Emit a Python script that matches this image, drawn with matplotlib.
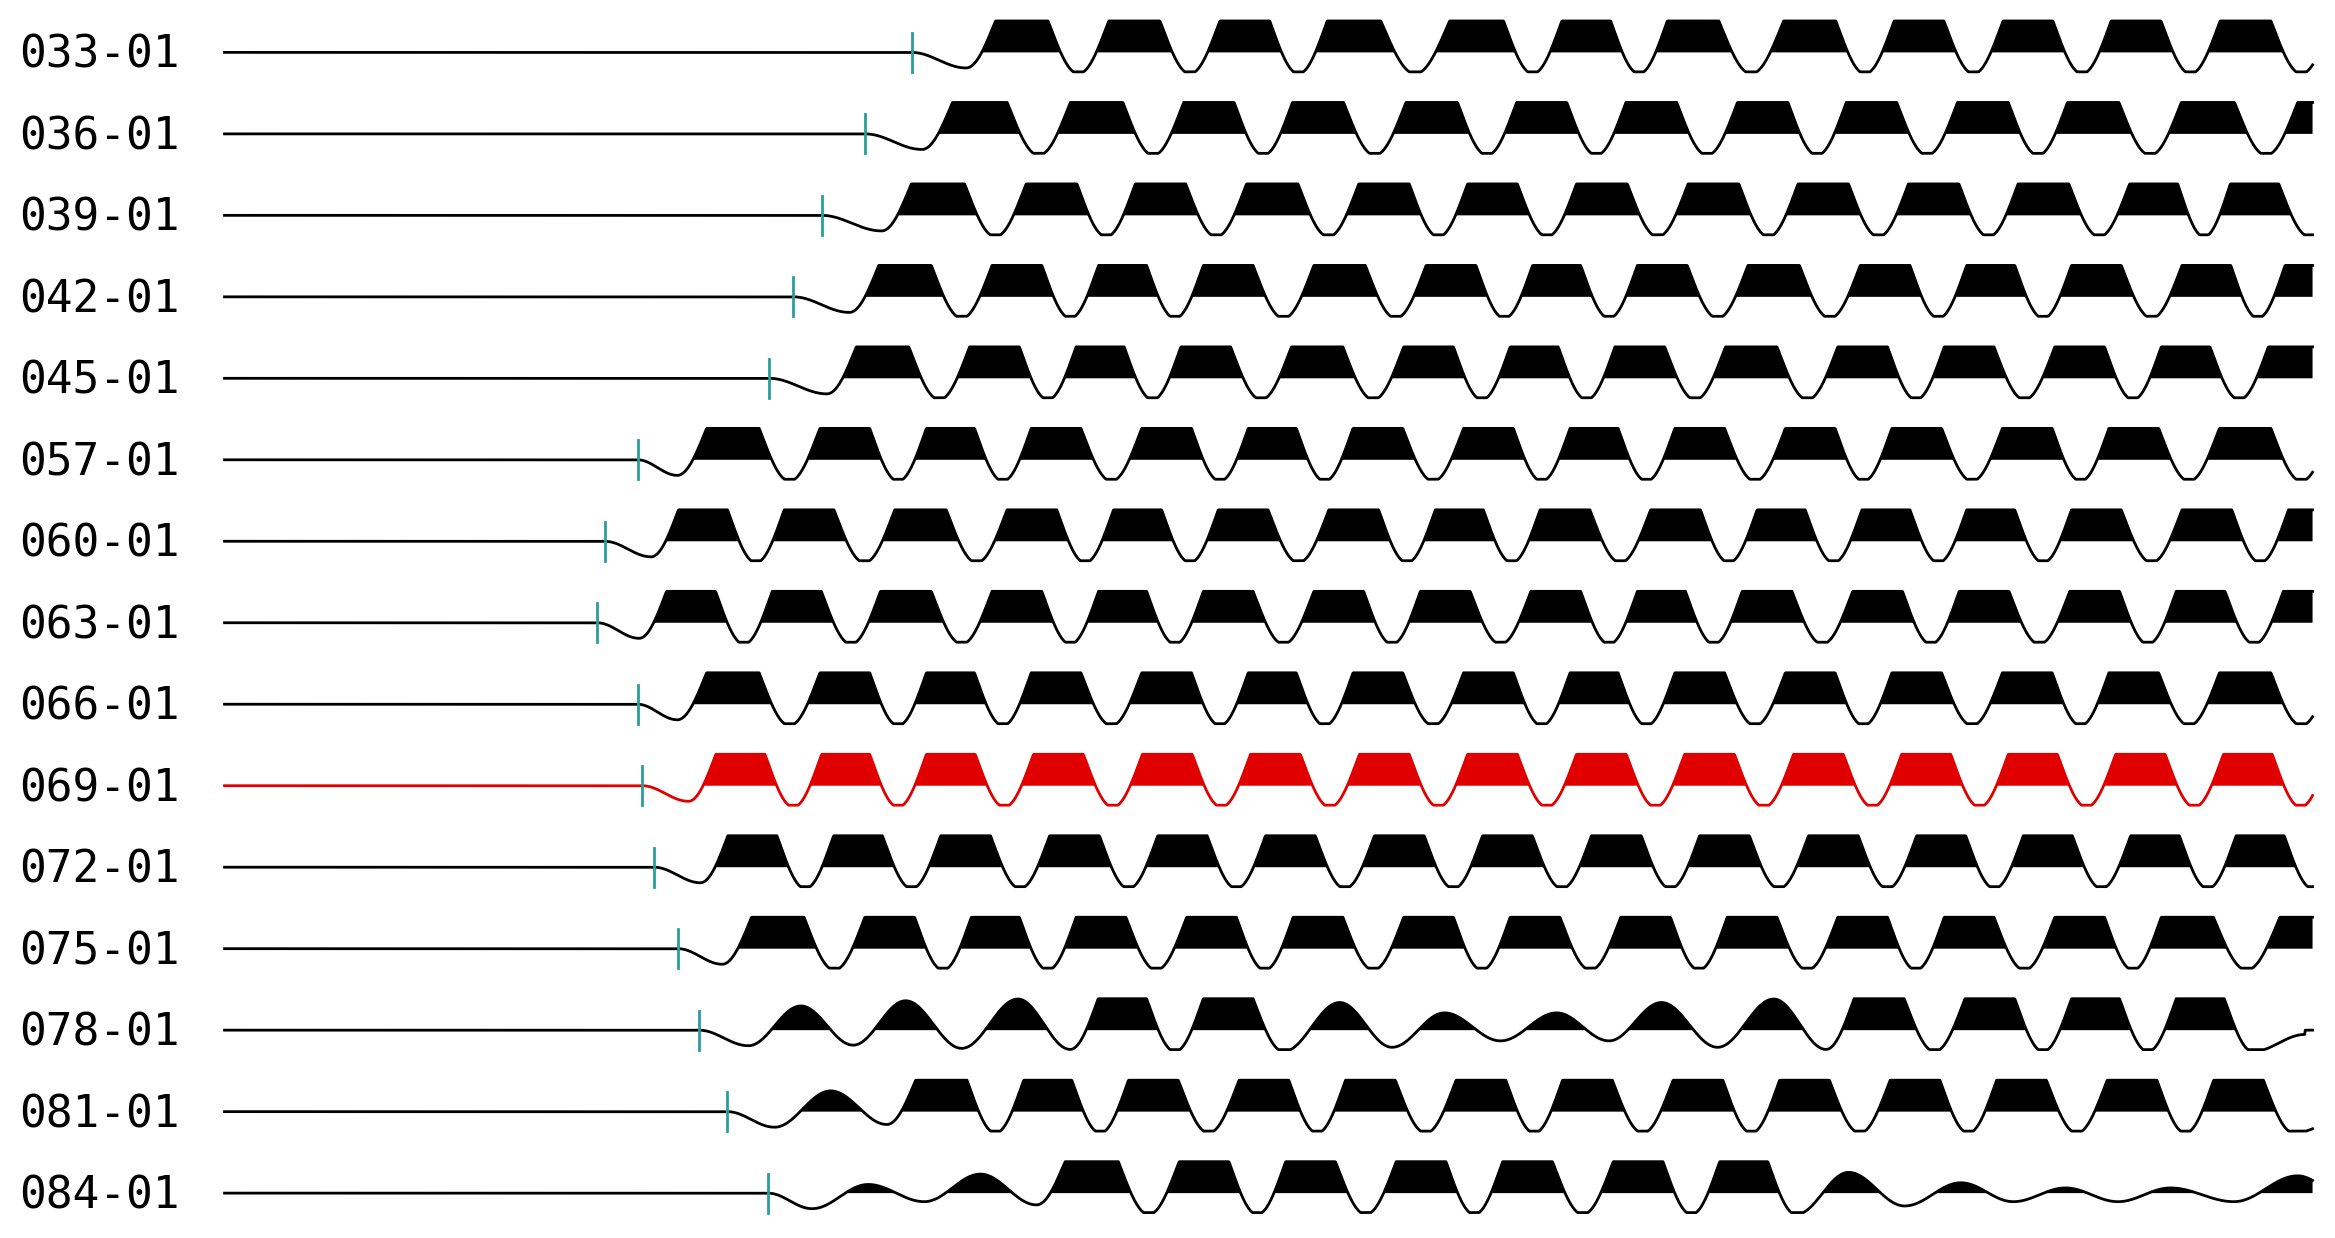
import numpy as np
import matplotlib
matplotlib.use("Agg")
import matplotlib.pyplot as plt

labels = ["033-01","036-01","039-01","042-01","045-01","057-01","060-01","063-01",
          "066-01","069-01","072-01","075-01","078-01","081-01","084-01"]
picks = [609,578,549,530,514,426,404,399,426,429,437,453,467,486,513]
peaks = [
 [683,758,832,903,988,1060,1130,1210,1282,1355,1427,1500],
 [655,733,808,880,957,1030,1103,1178,1250,1325,1398,1475],
 [627,703,775,850,925,997,1070,1145,1218,1292,1365,1440,1505],
 [605,680,750,820,895,970,1040,1110,1185,1260,1330,1400,1475,1542],
 [590,665,735,805,880,955,1025,1095,1170,1245,1315,1390,1460,1532],
 [490,565,635,705,780,850,920,995,1065,1135,1210,1280,1355,1425,1500],
 [470,540,615,690,760,830,905,975,1045,1120,1190,1260,1330,1400,1475,1545],
 [462,532,605,680,750,820,895,965,1040,1110,1180,1255,1325,1400,1470,1542],
 [490,565,635,705,780,850,920,995,1065,1135,1210,1280,1355,1425,1500],
 [495,565,635,707,780,852,925,997,1070,1142,1215,1287,1358,1430,1502],
 [503,573,645,718,790,862,935,1007,1080,1152,1225,1297,1368,1440,1510],
 [520,595,665,735,810,880,955,1025,1100,1170,1245,1315,1390,1460,1542],
 [535,605,680,750,820,895,965,1040,1110,1185,1255,1330,1400,1470],
 [555,630,700,770,845,915,990,1060,1135,1205,1280,1350,1425,1495],
 [580,655,730,805,875,950,1020,1095,1165,1235,1310,1380,1450,1535],
]
amps = {
 12: [0.7,0.85,0.9,1,1,0.8,0.5,0.5,0.8,0.9,1,1,1,1],
 13: [0.6,1,1,1,1,1,1,1,1,1,1,1,1,1],
 14: [0.25,0.55,1,1,1,1,1,1,1,0.6,0.3,0.15,0.15,0.5],
}
end_rise = [1,1,1,1,1,1,1,1,1,1,1,1,0,0,1]
highlight = "069-01"

X0, X1 = 150, 1545
Y0, DY = 35, 54.43
UP, DOWN = 21, 13

def cosinterp(kx, ky, x):
    y = np.zeros_like(x)
    for i in range(len(kx)-1):
        m = (x >= kx[i]) & (x <= kx[i+1])
        t = (x[m]-kx[i])/(kx[i+1]-kx[i])
        y[m] = ky[i] + (ky[i+1]-ky[i])*(1-np.cos(np.pi*t))/2
    return y

fig = plt.figure(figsize=(23.35,12.38), dpi=100)
ax = fig.add_axes([0,0,1,1])
ax.set_xlim(0,1560); ax.set_ylim(827,0); ax.axis("off")

for i,(lab,pk,pp) in enumerate(zip(labels,picks,peaks)):
    yb = Y0 + i*DY
    col = "#e00000" if lab == highlight else "black"
    a = amps.get(i, [1]*len(pp))
    kx=[X0, pk]; ky=[0,0]
    T = pp[1]-pp[0]
    kx.append(pp[0]-T/2); ky.append(-DOWN*0.8)
    for j,p in enumerate(pp):
        kx.append(p); ky.append(UP*2.3 if a[j] >= 0.95 else UP*1.1*a[j])
        nxt = pp[j+1] if j+1 < len(pp) else p+T
        kx.append((p+nxt)/2); ky.append(-DOWN*1.1*max(a[j],0.4))
    kx.append(kx[-1]+T/2); ky.append(UP*2.3 if end_rise[i] else ky[-1]*0.2)
    kx=np.array(kx); ky=np.array(ky)
    x = np.linspace(X0, X1, 4000)
    s = cosinterp(kx, ky, x)
    s = np.clip(s, -DOWN, UP)
    ax.plot(x, yb - s, color=col, lw=2)
    ax.fill_between(x, yb, yb - s, where=s > 0, color=col, lw=0)
    ax.plot([pk,pk],[yb-13,yb+13], color="#2a9d9d", lw=2)
    ax.text(13, yb+2, lab, fontsize=32, family="DejaVu Sans Mono", va="center", ha="left")

fig.savefig("out.png", dpi=100)
